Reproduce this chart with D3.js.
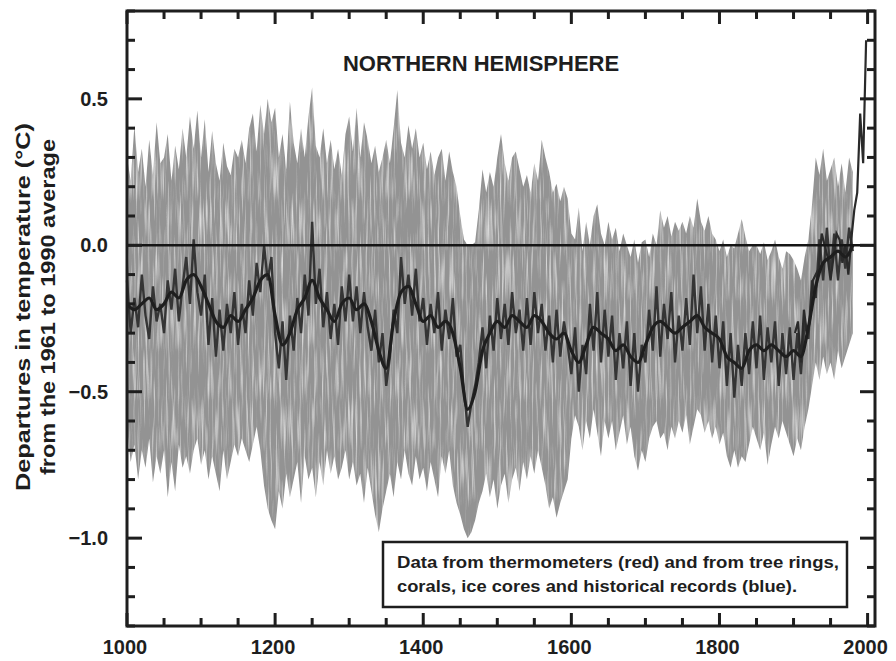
<!DOCTYPE html>
<html>
<head>
<meta charset="utf-8">
<script src="https://cdn.jsdelivr.net/npm/d3@7"></script>
<style>
  body { margin: 0; background: #fff; }
  text { font-family: "Liberation Sans", Arial, Helvetica, sans-serif; font-weight: bold; fill: #1e1e1e; }
</style>
</head>
<body>
<div id="chart"></div>
<script>
// reconstruction years (5-year steps) and the values
const reconYears = d3.range(1000, 1981, 5);

const bandHi = [
  0.30, 0.22, 0.41, 0.25, 0.33, 0.20, 0.36, 0.24, 0.42, 0.28,
  0.30, 0.38, 0.22, 0.34, 0.26, 0.40, 0.30, 0.44, 0.33, 0.46,
  0.30, 0.43, 0.25, 0.39, 0.28, 0.22, 0.35, 0.27, 0.24, 0.33,
  0.30, 0.36, 0.28, 0.40, 0.45, 0.32, 0.48, 0.38, 0.50, 0.42,
  0.47, 0.30, 0.38, 0.26, 0.49, 0.35, 0.28, 0.40, 0.30, 0.44,
  0.54, 0.34, 0.30, 0.40, 0.28, 0.36, 0.26, 0.33, 0.24, 0.38,
  0.44, 0.32, 0.47, 0.30, 0.42, 0.36, 0.28, 0.34, 0.25, 0.30,
  0.36, 0.28, 0.40, 0.53, 0.35, 0.30, 0.41, 0.33, 0.40, 0.30,
  0.35, 0.26, 0.32, 0.24, 0.30, 0.33, 0.22, 0.32, 0.25, 0.20,
  0.10, 0.02, 0.00, 0.00, 0.01, 0.12, 0.26, 0.18, 0.25, 0.20,
  0.30, 0.38, 0.28, 0.22, 0.30, 0.32, 0.26, 0.20, 0.24, 0.18,
  0.28, 0.22, 0.36, 0.30, 0.25, 0.18, 0.21, 0.15, 0.20, 0.16,
  0.04, 0.02, 0.13, -0.02, 0.08, 0.00, 0.10, 0.14, 0.04, 0.00,
  0.08, 0.02, 0.06, -0.02, 0.04, 0.00, -0.04, 0.02, -0.06, 0.01,
  0.02, -0.04, 0.04, 0.00, 0.12, 0.06, 0.10, 0.03, 0.08, 0.05,
  0.08, 0.04, 0.10, 0.06, 0.16, 0.08, 0.05, 0.10, 0.04, 0.02,
  -0.02, 0.02, -0.04, 0.00, -0.01, 0.04, 0.09, 0.03, -0.02, 0.00,
  0.00, -0.03, 0.01, -0.05, -0.02, 0.02, -0.04, -0.08, -0.02, -0.03,
  -0.05, -0.08, -0.12, -0.04, 0.02, 0.14, 0.30, 0.24, 0.33, 0.22,
  0.26, 0.30, 0.20, 0.28, 0.18, 0.30, 0.25
];

const bandLo = [
  -0.62, -0.74, -0.68, -0.80, -0.70, -0.76, -0.66, -0.81, -0.72, -0.78,
  -0.70, -0.86, -0.74, -0.84, -0.68, -0.76, -0.72, -0.78, -0.70, -0.66,
  -0.75, -0.70, -0.80, -0.72, -0.78, -0.84, -0.70, -0.80, -0.74, -0.68,
  -0.72, -0.66, -0.70, -0.74, -0.68, -0.62, -0.70, -0.82, -0.90, -0.94,
  -0.97, -0.84, -0.90, -0.78, -0.86, -0.80, -0.74, -0.88, -0.72, -0.80,
  -0.76, -0.86, -0.74, -0.82, -0.70, -0.78, -0.72, -0.80, -0.76, -0.70,
  -0.80, -0.74, -0.82, -0.78, -0.88, -0.76, -0.84, -0.92, -0.98, -0.90,
  -0.84, -0.78, -0.86, -0.74, -0.80, -0.70, -0.78, -0.82, -0.72, -0.80,
  -0.76, -0.84, -0.74, -0.80, -0.86, -0.72, -0.78, -0.70, -0.82, -0.88,
  -0.92, -0.97, -1.00, -0.98, -0.94, -0.88, -0.84, -0.78, -0.86, -0.80,
  -0.90, -0.82, -0.78, -0.88, -0.80, -0.76, -0.84, -0.74, -0.80, -0.72,
  -0.78, -0.70, -0.76, -0.82, -0.90, -0.86, -0.93, -0.88, -0.84, -0.80,
  -0.66, -0.58, -0.62, -0.70, -0.60, -0.66, -0.56, -0.64, -0.72, -0.60,
  -0.66, -0.60, -0.70, -0.64, -0.58, -0.68, -0.62, -0.72, -0.77, -0.70,
  -0.74, -0.66, -0.62, -0.60, -0.66, -0.64, -0.70, -0.62, -0.66, -0.60,
  -0.64, -0.58, -0.68, -0.62, -0.56, -0.58, -0.64, -0.60, -0.66, -0.62,
  -0.68, -0.64, -0.72, -0.76, -0.70, -0.76, -0.72, -0.74, -0.68, -0.62,
  -0.66, -0.70, -0.64, -0.75, -0.68, -0.62, -0.66, -0.60, -0.64, -0.68,
  -0.72, -0.66, -0.70, -0.62, -0.56, -0.48, -0.40, -0.46, -0.38, -0.44,
  -0.40, -0.46, -0.36, -0.42, -0.38, -0.34, -0.30
];

const recon = [
  -0.12, -0.30, -0.18, -0.28, -0.10, -0.24, -0.32, -0.14, -0.26, -0.20,
  -0.30, -0.12, -0.22, -0.08, -0.26, -0.14, -0.04, -0.20, 0.02, -0.16,
  -0.24, -0.10, -0.34, -0.18, -0.38, -0.22, -0.36, -0.20, -0.30, -0.16,
  -0.34, -0.20, -0.30, -0.12, -0.24, -0.06, -0.16, 0.00, -0.12, -0.04,
  -0.30, -0.42, -0.26, -0.46, -0.24, -0.36, -0.18, -0.30, -0.10, -0.24,
  0.08, -0.20, -0.08, -0.28, -0.16, -0.32, -0.20, -0.34, -0.14, -0.26,
  -0.10, -0.26, -0.14, -0.30, -0.16, -0.28, -0.36, -0.22, -0.40, -0.30,
  -0.48, -0.38, -0.22, -0.30, -0.04, -0.20, -0.10, -0.24, -0.08, -0.26,
  -0.18, -0.34, -0.20, -0.30, -0.16, -0.36, -0.22, -0.32, -0.18, -0.38,
  -0.34, -0.50, -0.62, -0.54, -0.48, -0.40, -0.28, -0.42, -0.24, -0.36,
  -0.18, -0.32, -0.20, -0.34, -0.16, -0.30, -0.22, -0.36, -0.18, -0.34,
  -0.16, -0.30, -0.20, -0.36, -0.24, -0.40, -0.22, -0.38, -0.26, -0.34,
  -0.44, -0.28, -0.50, -0.34, -0.44, -0.20, -0.36, -0.16, -0.40, -0.22,
  -0.38, -0.24, -0.46, -0.30, -0.42, -0.26, -0.48, -0.30, -0.50, -0.34,
  -0.40, -0.22, -0.36, -0.14, -0.38, -0.20, -0.32, -0.16, -0.40, -0.24,
  -0.36, -0.18, -0.34, -0.10, -0.30, -0.14, -0.36, -0.20, -0.40, -0.24,
  -0.42, -0.26, -0.48, -0.30, -0.52, -0.34, -0.48, -0.30, -0.44, -0.26,
  -0.42, -0.24, -0.46, -0.28, -0.40, -0.26, -0.48, -0.30, -0.44, -0.28,
  -0.46, -0.30, -0.44, -0.26, -0.32, -0.12, -0.18, 0.02, -0.12, 0.06,
  -0.10, 0.04, -0.12, 0.02, -0.08, 0.06, -0.02
];

// smoothed curve, 10-year steps
const smoothYears = d3.range(1000, 1981, 10);
const smooth = [
  -0.20, -0.22, -0.20, -0.18, -0.22, -0.20, -0.16, -0.18, -0.12, -0.10,
  -0.14, -0.20, -0.26, -0.28, -0.24, -0.26, -0.22, -0.18, -0.12, -0.10,
  -0.24, -0.34, -0.30, -0.22, -0.18, -0.12, -0.18, -0.22, -0.26, -0.20,
  -0.18, -0.22, -0.20, -0.26, -0.36, -0.42, -0.26, -0.16, -0.14, -0.20,
  -0.26, -0.24, -0.28, -0.26, -0.30, -0.42, -0.56, -0.50, -0.36, -0.30,
  -0.26, -0.28, -0.24, -0.26, -0.28, -0.24, -0.26, -0.30, -0.32, -0.30,
  -0.36, -0.40, -0.34, -0.28, -0.30, -0.32, -0.36, -0.34, -0.38, -0.40,
  -0.34, -0.28, -0.26, -0.28, -0.30, -0.28, -0.26, -0.24, -0.28, -0.30,
  -0.32, -0.38, -0.40, -0.42, -0.36, -0.34, -0.36, -0.34, -0.36, -0.38,
  -0.36, -0.38, -0.28, -0.14, -0.06, -0.04, -0.02, -0.04, 0.00
];

// thermometer record
const instrYears = d3.range(1902, 1999, 4);
const instr = [
  -0.30, -0.26, -0.40, -0.22, -0.30, -0.26, -0.12, -0.10, -0.08, 0.04,
  0.00, -0.04, -0.12, -0.04, 0.04, 0.02, -0.06, 0.00, -0.10, 0.02,
  0.12, 0.18, 0.45, 0.28, 0.70
];

const xTicks = [1000, 1200, 1400, 1600, 1800, 2000];
const yTicks = [-1.0, -0.5, 0.0, 0.5];
const xMinor = d3.range(1000, 2001, 50);
const yMinor = d3.range(-13, 9).map(d => d / 10);

const noteLines = ["Data from thermometers (red) and from tree rings,",
                   "corals, ice cores and historical records (blue)."];

const width = 896, height = 661;
const plotLeft = 127, plotRight = 875, plotTop = 11, plotBottom = 626;

const x = d3.scaleLinear().domain([1000, 2010]).range([plotLeft, plotRight]);
const y = d3.scaleLinear().domain([-1.3, 0.8]).range([plotBottom, plotTop]);

const svg = d3.select("#chart")
  .append("svg")
  .attr("width", width)
  .attr("height", height);

// streaky grain so the grey looks like the printed scan
const grain = svg.append("defs").append("filter")
  .attr("id", "grain")
  .attr("x", 0).attr("y", 0).attr("width", 1).attr("height", 1);
grain.append("feTurbulence")
  .attr("type", "fractalNoise")
  .attr("baseFrequency", "0.5 0.02")
  .attr("numOctaves", 2)
  .attr("seed", 7)
  .attr("result", "noise");
grain.append("feColorMatrix")
  .attr("in", "noise")
  .attr("type", "matrix")
  .attr("values", "0 0 0 0 0  0 0 0 0 0  0 0 0 0 0  1.8 0 0 0 0.05")
  .attr("result", "mask");
grain.append("feComposite")
  .attr("in", "SourceGraphic")
  .attr("in2", "mask")
  .attr("operator", "in");

const band = reconYears.map((yr, i) => ({ yr, hi: bandHi[i], lo: bandLo[i], v: recon[i] }));

// light grey uncertainty band
svg.append("path")
  .datum(band)
  .attr("fill", "#939393")
  .attr("filter", "url(#grain)")
  .attr("d", d3.area().x(d => x(d.yr)).y0(d => y(d.lo)).y1(d => y(d.hi)));

// annual reconstruction
svg.append("path")
  .datum(band)
  .attr("fill", "none")
  .attr("stroke", "#353535")
  .attr("stroke-width", 2.4)
  .attr("d", d3.line().x(d => x(d.yr)).y(d => y(d.v)));

// thermometers
svg.append("path")
  .datum(instrYears.map((yr, i) => [yr, instr[i]]))
  .attr("fill", "none")
  .attr("stroke", "#2a2a2a")
  .attr("stroke-width", 2.2)
  .attr("d", d3.line().x(d => x(d[0])).y(d => y(d[1])));

// smoothed curve
svg.append("path")
  .datum(smoothYears.map((yr, i) => [yr, smooth[i]]))
  .attr("fill", "none")
  .attr("stroke", "#1e1e1e")
  .attr("stroke-width", 3.2)
  .attr("stroke-linejoin", "round")
  .attr("d", d3.line().curve(d3.curveMonotoneX).x(d => x(d[0])).y(d => y(d[1])));

// zero line
svg.append("line")
  .attr("x1", plotLeft).attr("x2", plotRight)
  .attr("y1", y(0)).attr("y2", y(0))
  .attr("stroke", "#151515")
  .attr("stroke-width", 2.5);

// frame
svg.append("rect")
  .attr("x", plotLeft).attr("y", plotTop)
  .attr("width", plotRight - plotLeft).attr("height", plotBottom - plotTop)
  .attr("fill", "none")
  .attr("stroke", "#1e1e1e")
  .attr("stroke-width", 3);

// inward ticks on all four sides, drawn as small filled rects
const isMajorY = d => yTicks.some(t => Math.abs(t - d) < 1e-9);
const xLen = d => xTicks.includes(d) ? 13 : 8;
const yLen = d => isMajorY(d) ? 15 : 8;
const tw = 3;
const tickG = svg.append("g").attr("fill", "#1e1e1e");

tickG.selectAll("rect.xb").data(xMinor).join("rect").attr("class", "xb")
  .attr("x", d => x(d) - tw / 2).attr("width", tw)
  .attr("y", d => plotBottom - xLen(d)).attr("height", d => xLen(d));
tickG.selectAll("rect.xt").data(xMinor).join("rect").attr("class", "xt")
  .attr("x", d => x(d) - tw / 2).attr("width", tw)
  .attr("y", plotTop).attr("height", d => xLen(d));
tickG.selectAll("rect.yl").data(yMinor).join("rect").attr("class", "yl")
  .attr("y", d => y(d) - tw / 2).attr("height", tw)
  .attr("x", plotLeft).attr("width", d => yLen(d));
tickG.selectAll("rect.yr").data(yMinor).join("rect").attr("class", "yr")
  .attr("y", d => y(d) - tw / 2).attr("height", tw)
  .attr("x", d => plotRight - yLen(d)).attr("width", d => yLen(d));

// tick labels
svg.append("g")
  .attr("font-size", 20)
  .attr("text-anchor", "middle")
  .selectAll("text")
  .data(xTicks)
  .join("text")
  .attr("x", d => x(d) - 2)
  .attr("y", 654)
  .text(d => d);

svg.append("g")
  .attr("font-size", 20)
  .attr("text-anchor", "end")
  .selectAll("text")
  .data(yTicks)
  .join("text")
  .attr("x", 108)
  .attr("y", d => y(d) + 7)
  .text(d => d === 0 ? "0.0" : d3.format(".1f")(d).replace("-", "\u2013"));

// y axis title, two lines
svg.append("text")
  .attr("transform", "translate(30,307) rotate(-90)")
  .attr("text-anchor", "middle")
  .attr("font-size", 20)
  .attr("textLength", 368)
  .attr("lengthAdjust", "spacingAndGlyphs")
  .text("Departures in temperature (\u00b0C)");
svg.append("text")
  .attr("transform", "translate(55,307) rotate(-90)")
  .attr("text-anchor", "middle")
  .attr("font-size", 20)
  .attr("textLength", 336)
  .attr("lengthAdjust", "spacingAndGlyphs")
  .text("from the 1961 to 1990 average");

// title
svg.append("text")
  .attr("x", 481)
  .attr("y", 71)
  .attr("text-anchor", "middle")
  .attr("font-size", 22)
  .text("NORTHERN HEMISPHERE");

// note box
svg.append("rect")
  .attr("x", 383).attr("y", 542)
  .attr("width", 464).attr("height", 65)
  .attr("fill", "#fff")
  .attr("stroke", "#1e1e1e")
  .attr("stroke-width", 2.5);

svg.append("g")
  .attr("font-size", 16)
  .selectAll("text")
  .data(noteLines)
  .join("text")
  .attr("x", 397)
  .attr("y", (d, i) => 568 + i * 24)
  .attr("textLength", (d, i) => i ? 400 : 442)
  .attr("lengthAdjust", "spacingAndGlyphs")
  .text(d => d);
</script>
</body>
</html>
